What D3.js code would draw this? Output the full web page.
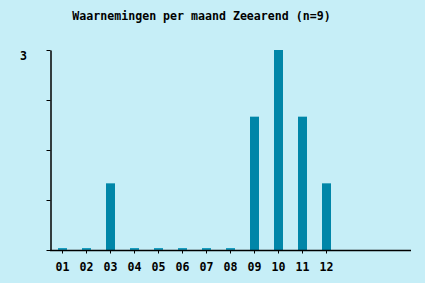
<!DOCTYPE html>
<html>
<head>
<meta charset="utf-8">
<script src="https://cdn.jsdelivr.net/npm/d3@7"></script>
<style>
  html, body { margin: 0; padding: 0; background: #c6eef7; }
  svg { display: block; }
  text { font-family: "DejaVu Sans Mono", "Liberation Mono", monospace; font-weight: bold; fill: #000; }
</style>
</head>
<body>
<div id="chart"></div>
<script>
// month labels and counts (n=9)
var months = ["01", "02", "03", "04", "05", "06", "07", "08", "09", "10", "11", "12"];
var counts = [0, 0, 1, 0, 0, 0, 0, 0, 2, 3, 2, 1];
var yTicks = [0, 0.75, 1.5, 2.25, 3];
var yLabels = ["", "", "", "", "3"];
var title = "Waarnemingen per maand Zeearend (n=9)";

var width = 425, height = 283;

var svg = d3.select("#chart")
  .append("svg")
    .attr("width", width)
    .attr("height", height);

svg.append("rect")
  .attr("width", width)
  .attr("height", height)
  .attr("fill", "#c6eef7");

svg.append("text")
  .attr("x", 201.5)
  .attr("y", 20)
  .attr("text-anchor", "middle")
  .style("font-size", "11.6px")
  .text(title);

// scales
var x = d3.scaleBand()
  .domain(months)
  .range([50.5, 50.5 + months.length * 24])
  .paddingInner(0.625)
  .paddingOuter(0.3125);

var y = d3.scaleLinear()
  .domain([0, 3])
  .range([250, 50]);

// bars (zero months get a small stub)
svg.selectAll(".bar")
  .data(months)
  .enter().append("rect")
    .attr("x", function(d) { return x(d); })
    .attr("width", x.bandwidth())
    .attr("y", function(d, i) { return counts[i] > 0 ? y(counts[i]) : y(0) - 2; })
    .attr("height", function(d, i) { return counts[i] > 0 ? y(0) - y(counts[i]) : 2; })
    .attr("fill", function(d, i) { return counts[i] > 0 ? "#0086a8" : "#1a9ec0"; });

// y axis
var yAxis = svg.append("g")
  .attr("transform", "translate(50.5,0)")
  .call(d3.axisLeft(y)
    .tickValues(yTicks)
    .tickSize(4)
    .tickSizeOuter(0)
    .tickFormat(function(d, i) { return yLabels[i]; }));
yAxis.select(".domain").attr("stroke", "#000").attr("stroke-width", 1.5);
yAxis.selectAll(".tick line").attr("stroke", "#000");
yAxis.selectAll(".tick text")
  .attr("x", -27)
  .attr("dy", "0.85em")
  .attr("text-anchor", "middle")
  .style("font-size", "11.6px");

// x axis
var xAxis = svg.append("g")
  .attr("transform", "translate(0,250.5)")
  .call(d3.axisBottom(x).tickSize(3).tickSizeOuter(0));
xAxis.select(".domain").remove();
xAxis.selectAll(".tick line").attr("stroke", "#000");
xAxis.selectAll(".tick text")
  .attr("y", 12)
  .attr("dy", "0.71em")
  .style("font-size", "11.6px");

svg.append("line")
  .attr("x1", 50)
  .attr("x2", 411)
  .attr("y1", 250.5)
  .attr("y2", 250.5)
  .attr("stroke", "#000")
  .attr("stroke-width", 1.5);
</script>
</body>
</html>
